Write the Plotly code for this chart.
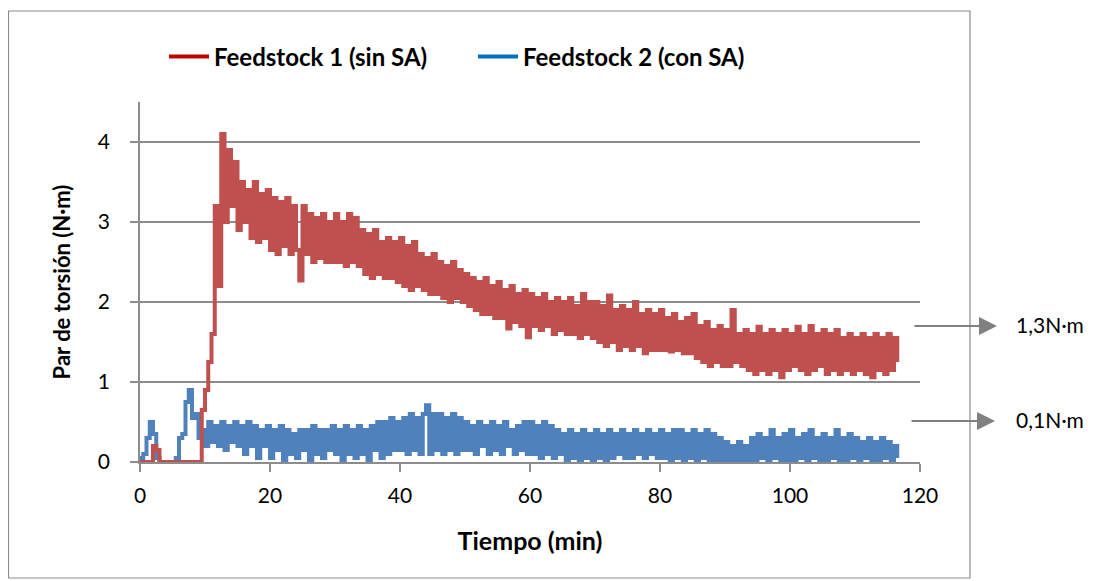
import plotly.graph_objects as go

# Sampling time (min), one reading every 0.5 min
time_min = [i * 0.5 for i in range(234)]

# Feedstock 1 (sin SA) torque (N·m)
torque_f1 = [
    0, 0, 0, 0, 0.2, 0.15, 0, 0, 0, 0, 0, 0, 0, 0, 0, 0, 0, 0, 0, 0.65,
    0.9, 1.25, 1.6, 3.2, 2.2, 4.1, 3.0, 3.9, 3.2, 3.75, 2.9, 3.5, 3.0, 3.4, 2.8, 3.5, 2.75, 3.35, 2.8, 3.4,
    2.65, 3.3, 2.6, 3.25, 2.7, 3.3, 2.6, 3.2, 2.65, 2.27, 3.2, 2.6, 3.1, 2.5, 3.05, 2.55, 3.1, 2.5, 3.0, 2.5,
    3.1, 2.5, 3.0, 2.45, 3.1, 2.5, 3.05, 2.45, 2.9, 2.35, 2.85, 2.3, 2.9, 2.35, 2.75, 2.3, 2.8, 2.3, 2.75, 2.25,
    2.8, 2.2, 2.7, 2.15, 2.75, 2.2, 2.6, 2.15, 2.55, 2.1, 2.6, 2.1, 2.5, 2.05, 2.45, 2.0, 2.5, 2.05, 2.4, 2.0,
    2.35, 1.95, 2.3, 1.9, 2.25, 1.85, 2.3, 1.85, 2.2, 1.8, 2.25, 1.8, 2.15, 1.67, 2.2, 1.75, 2.1, 1.7, 2.15, 1.56,
    2.1, 1.7, 2.05, 1.65, 2.1, 1.7, 2.0, 1.6, 2.05, 1.65, 2.0, 1.6, 2.05, 1.6, 1.95, 1.55, 2.1, 1.6, 2.0, 1.55,
    2.0, 1.5, 1.95, 1.45, 2.08, 1.5, 1.9, 1.4, 1.95, 1.45, 1.9, 1.4, 2.0, 1.45, 1.85, 1.36, 1.9, 1.4, 1.85, 1.4,
    1.9, 1.4, 1.8, 1.38, 1.85, 1.4, 1.75, 1.36, 1.8, 1.36, 1.85, 1.3, 1.7, 1.25, 1.75, 1.2, 1.65, 1.25, 1.7, 1.2,
    1.65, 1.2, 1.9, 1.25, 1.6, 1.2, 1.65, 1.15, 1.6, 1.1, 1.69, 1.15, 1.6, 1.1, 1.65, 1.15, 1.6, 1.06, 1.65, 1.15,
    1.6, 1.2, 1.69, 1.15, 1.6, 1.1, 1.7, 1.15, 1.6, 1.2, 1.65, 1.1, 1.6, 1.15, 1.65, 1.1, 1.55, 1.15, 1.6, 1.1,
    1.55, 1.15, 1.6, 1.1, 1.55, 1.06, 1.6, 1.15, 1.55, 1.1, 1.6, 1.15, 1.55, 1.25,
]

# Feedstock 2 (con SA) torque (N·m)
torque_f2 = [
    0.05, 0.1, 0.3, 0.5, 0.35, 0.05, 0, 0, 0, 0, 0, 0.05, 0.3, 0.35, 0.75, 0.9, 0.55, 0.6, 0.3, 0.4,
    0.2, 0.5, 0.25, 0.45, 0.2, 0.5, 0.15, 0.45, 0.25, 0.5, 0.2, 0.45, 0.1, 0.5, 0.2, 0.45, 0.05, 0.4, 0.2, 0.45,
    0.05, 0.4, 0.15, 0.45, 0.0, 0.4, 0.1, 0.35, 0.05, 0.4, 0.15, 0.4, 0.0, 0.45, 0.1, 0.4, 0.05, 0.4, 0.15, 0.45,
    0.1, 0.4, 0.0, 0.45, 0.1, 0.4, 0.05, 0.45, 0.1, 0.4, 0.0, 0.45, 0.15, 0.5, 0.05, 0.5, 0.1, 0.55, 0.15, 0.5,
    0.15, 0.55, 0.1, 0.6, 0.15, 0.55, 0.1, 0.6, 0.71, 0.1, 0.6, 0.15, 0.6, 0.1, 0.55, 0.15, 0.6, 0.1, 0.55, 0.15,
    0.5, 0.15, 0.45, 0.1, 0.5, 0.2, 0.45, 0.1, 0.5, 0.15, 0.45, 0.1, 0.5, 0.2, 0.4, 0.1, 0.45, 0.15, 0.5, 0.1,
    0.5, 0.1, 0.45, 0.05, 0.5, 0.1, 0.45, 0.05, 0.4, 0.1, 0.35, 0.0, 0.4, 0.05, 0.35, 0.0, 0.4, 0.05, 0.35, 0.0,
    0.4, 0.05, 0.35, 0.0, 0.4, 0.05, 0.35, 0.1, 0.4, 0.05, 0.35, 0.05, 0.4, 0.1, 0.35, 0.05, 0.4, 0.1, 0.35, 0.05,
    0.4, 0.05, 0.35, 0.0, 0.4, 0.05, 0.4, 0.0, 0.35, 0.05, 0.4, 0.0, 0.35, 0.05, 0.4, 0.0, 0.35, 0.0, 0.3, 0.0,
    0.25, 0.0, 0.2, 0.0, 0.25, 0.0, 0.2, 0.0, 0.3, 0.0, 0.35, 0.05, 0.3, 0.0, 0.4, 0.05, 0.3, 0.0, 0.35, 0.0,
    0.4, 0.0, 0.3, 0.05, 0.35, 0.0, 0.4, 0.05, 0.3, 0.0, 0.35, 0.0, 0.3, 0.05, 0.4, 0.0, 0.3, 0.0, 0.35, 0.05,
    0.3, 0.0, 0.25, 0.05, 0.3, 0.0, 0.25, 0.0, 0.3, 0.05, 0.25, 0.0, 0.2, 0.05,
]

series_names = ["Feedstock 1 (sin SA)", "Feedstock 2 (con SA)"]
x_ticks = [0, 20, 40, 60, 80, 100, 120]
y_ticks = [0, 1, 2, 3, 4]
final_labels = ["1,3N·m", "0,1N·m"]

FONT = "Lato"
GRID = "#8c8c8c"

fig = go.Figure()
fig.add_trace(go.Scatter(x=time_min, y=torque_f2, mode="lines", showlegend=False,
                         line=dict(color="#4F81BD", width=4, shape="hv", simplify=False),
                         name=series_names[1]))
fig.add_trace(go.Scatter(x=time_min, y=torque_f1, mode="lines", showlegend=False,
                         line=dict(color="#C0504D", width=4, shape="hv", simplify=False),
                         name=series_names[0]))
# legend entries
fig.add_trace(go.Scatter(x=[None], y=[None], mode="lines", name=series_names[0],
                         line=dict(color="#C00000", width=4)))
fig.add_trace(go.Scatter(x=[None], y=[None], mode="lines", name=series_names[1],
                         line=dict(color="#0070C0", width=4)))

# page has an 8 px body margin: figure is drawn from page pixel (8, 8)
OFF = 8
W, H = 1095 - OFF, 581 - OFF
PX0, PX1, PY0, PY1 = 140, 920, 102, 462   # plot area in page pixels
L, T = PX0 - OFF, PY0 - OFF
R, B = W - (PX1 - OFF), H - (PY1 - OFF)
pw, ph = PX1 - PX0, PY1 - PY0


def px_x(p):
    return (p - PX0) / pw


def px_y(p):
    return (PY1 - p) / ph


shapes = [dict(type="rect", xref="paper", yref="paper",
               x0=px_x(8.5), x1=px_x(970), y0=px_y(578), y1=px_y(11),
               line=dict(color="#8c8c8c", width=1.2), fillcolor="rgba(0,0,0,0)", layer="below")]

annotations = []
arrow_rows = [(326, 913, 997), (421, 910, 995)]
for (yy, x_tail, x_head), lab in zip(arrow_rows, final_labels):
    annotations.append(dict(x=px_x(x_head), y=px_y(yy), xref="paper", yref="paper",
                            ax=-(x_head - x_tail), ay=0, text="", showarrow=True,
                            arrowhead=2, arrowsize=1.8, arrowwidth=2, arrowcolor="#808080",
                            standoff=0))
    annotations.append(dict(x=px_x(1014), y=px_y(yy - 2), xref="paper", yref="paper",
                            text=lab, showarrow=False, xanchor="left", yanchor="middle",
                            font=dict(family=FONT, size=21, color="#000000")))

fig.update_layout(
    width=W, height=H,
    margin=dict(l=L, r=R, t=T, b=B, autoexpand=False),
    paper_bgcolor="white", plot_bgcolor="white",
    font=dict(family=FONT, size=21, color="#000000"),
    shapes=shapes, annotations=annotations,
    legend=dict(orientation="h", x=px_x(164), y=px_y(57), xanchor="left", yanchor="middle",
                font=dict(family=FONT, size=24, color="#000000", weight="bold"),
                entrywidth=254, entrywidthmode="pixels", itemwidth=40,
                bgcolor="rgba(0,0,0,0)", tracegroupgap=0),
    xaxis=dict(range=[0, 120], tickvals=x_ticks, showgrid=False, showline=True,
               linecolor=GRID, linewidth=1.5, ticks="outside", ticklen=8, tickcolor=GRID,
               tickwidth=1.5, zeroline=False, automargin=False, ticklabelstandoff=6,
               title=dict(text="<b>Tiempo (min)</b>", font=dict(family=FONT, size=25), standoff=27),
               tickfont=dict(family=FONT, size=21)),
    yaxis=dict(range=[0, 4.5], tickvals=y_ticks, showgrid=True, gridcolor=GRID, gridwidth=1.5,
               showline=True, linecolor=GRID, linewidth=1.5, ticks="outside", ticklen=8,
               tickcolor=GRID, tickwidth=1.5, zeroline=False, ticklabelstandoff=16,
               automargin=False,
               title=dict(text="<b>Par de torsión (N·m)</b>", font=dict(family=FONT, size=22),
                          standoff=21),
               tickfont=dict(family=FONT, size=21)),
)

fig.write_html("out.html")
